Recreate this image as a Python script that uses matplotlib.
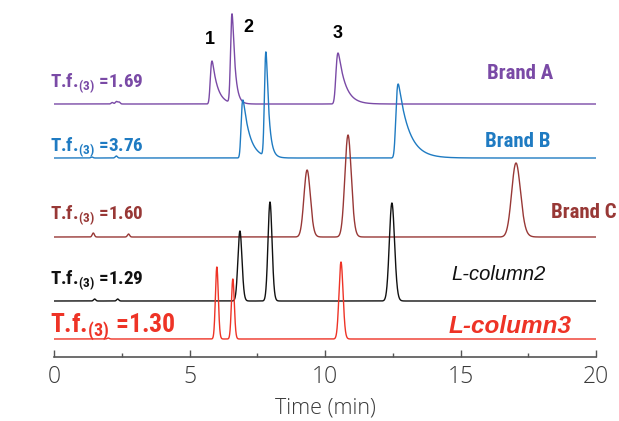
import numpy as np
import matplotlib
matplotlib.use('Agg')
import matplotlib.pyplot as plt

# chromatogram traces, top to bottom
names = ['Brand A', 'Brand B', 'Brand C', 'L-column2', 'L-column3']
tf_values = ['1.69', '3.76', '1.60', '1.29', '1.30']
colors = ['#7a4aa6', '#1f7bc2', '#983836', '#111111', '#ee3326']
offsets = [251, 197, 118, 54, 16]

# peaks: retention time (min), height, sigma, tailing tau
peak_times = [[5.83, 6.57, 10.48], [6.97, 7.82, 12.70], [9.34, 10.85, 17.05],
              [6.86, 7.97, 12.47], [6.01, 6.60, 10.59]]
peak_heights = [[43, 89, 51], [58, 104, 74], [67, 102, 74],
                [70, 99, 98], [72, 60, 77]]
peak_sigma = [[0.04, 0.04, 0.05], [0.04, 0.04, 0.05], [0.11, 0.11, 0.15],
              [0.07, 0.07, 0.09], [0.05, 0.05, 0.07]]
peak_tau = [[0.2, 0.10, 0.26], [0.25, 0.10, 0.38], [0.05, 0.05, 0.08],
            [0.03, 0.03, 0.04], [0.02, 0.02, 0.03]]

# small baseline disturbances: time, height
bump_times = [[2.15, 2.3, 2.4], [1.4, 2.3], [1.45, 2.75], [1.5, 2.35], [2.0]]
bump_heights = [[1.5, 2.5, 2], [1, 2], [4, 3], [2, 2], [1]]

t = np.linspace(0, 20, 8001)
dt = t[1] - t[0]


def peak(c, h, s, tau):
    g = np.exp(-0.5 * ((t - c) / s) ** 2)
    k = np.exp(-np.arange(0, 8 * tau, dt) / tau)
    y = np.convolve(g, k)[:len(t)]
    shift = t[np.argmax(y)] - c
    g = np.exp(-0.5 * ((t - c + shift) / s) ** 2)
    y = np.convolve(g, k)[:len(t)]
    return h * y / y.max()


COND = ['Roboto Condensed', 'DejaVu Sans']
plt.rcParams['mathtext.fontset'] = 'custom'
plt.rcParams['mathtext.bf'] = 'Roboto Condensed:bold'
plt.rcParams['mathtext.rm'] = 'Roboto Condensed:bold'

fig = plt.figure(figsize=(6.19, 4.21), dpi=100)
ax = fig.add_axes([54 / 619, 64 / 421, 542 / 619, 357 / 421])
ax.set_xlim(0, 20)
ax.set_ylim(-2, 355)

for i in range(len(names)):
    y = np.zeros_like(t)
    for c, h, s, tau in zip(peak_times[i], peak_heights[i], peak_sigma[i], peak_tau[i]):
        y += peak(c, h, s, tau)
    for c, h in zip(bump_times[i], bump_heights[i]):
        y += h * np.exp(-0.5 * ((t - c) / 0.04) ** 2)
    ax.plot(t, offsets[i] + y, color=colors[i], lw=1.0)

# left labels (baseline positions)
left_y = [268, 204, 136, 71, 23]
for i in range(len(names)):
    fs = 18.5 if i == 4 else 13.8
    ax.text(-0.15, left_y[i], r'T.f.$_{(3)}$ =' + tf_values[i], color=colors[i],
            fontsize=fs, fontweight='bold', family=COND, va='baseline', ha='left')

# right labels
ax.text(17.2, 276, 'Brand A', color=colors[0], fontsize=15, fontweight='bold',
        family=COND, ha='center', va='baseline')
ax.text(17.12, 208, 'Brand B', color=colors[1], fontsize=15, fontweight='bold',
        family=COND, ha='center', va='baseline')
ax.text(20.77, 137, 'Brand C', color=colors[2], fontsize=15, fontweight='bold',
        family=COND, ha='right', va='baseline')
ax.text(16.42, 75, 'L-column2', color=colors[3], fontsize=14.5, style='italic',
        family=['Liberation Sans', 'DejaVu Sans'], ha='center', va='baseline')
ax.text(16.83, 22, 'L-column3', color=colors[4], fontsize=17.5, style='italic',
        fontweight='bold', family=['Liberation Sans', 'DejaVu Sans'], ha='center', va='baseline')

# peak numbers
for x, yy, lab in [(5.74, 316, '1'), (7.16, 327, '2'), (10.48, 322, '3')]:
    ax.text(x, yy, lab, fontsize=13, fontweight='bold', ha='center', va='center',
            family=['Liberation Sans', 'DejaVu Sans'])

for s in ['top', 'right', 'left']:
    ax.spines[s].set_visible(False)
ax.spines['bottom'].set_color('#555555')
ax.spines['bottom'].set_linewidth(1.2)
ax.set_yticks([])
ax.set_xticks([0, 5, 10, 15, 20])
ax.set_xticks([2.5, 7.5, 12.5, 17.5], minor=True)
ax.tick_params(axis='x', which='major', direction='in', length=5, width=1, color='#555555',
               labelsize=16.5, pad=6, labelcolor='#3a3a3a')
ax.tick_params(axis='x', which='minor', direction='in', length=3, width=1, color='#555555')
for lab in ax.get_xticklabels():
    lab.set_family(['Open Sans', 'DejaVu Sans'])
    lab.set_fontweight(300)
ax.set_xlabel('Time (min)', fontsize=15.5, family=['Open Sans', 'DejaVu Sans'],
              fontweight=300, color='#3a3a3a', labelpad=6)
ax.patch.set_visible(False)

fig.savefig('out.png', dpi=100)
